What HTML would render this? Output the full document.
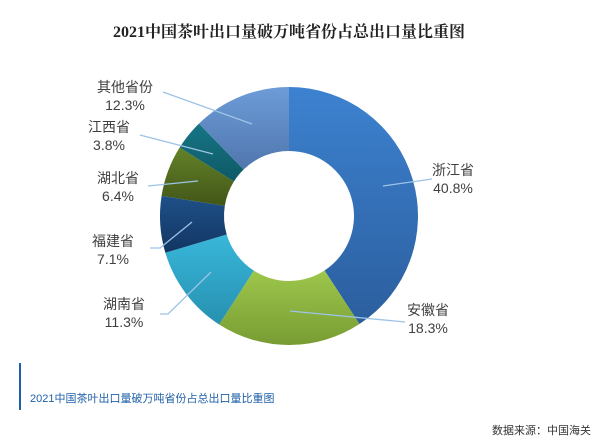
<!DOCTYPE html><html><head><meta charset="utf-8"><style>
body{margin:0;width:603px;height:438px;background:#fff;position:relative;overflow:hidden;font-family:"Liberation Sans","Noto Sans CJK SC",sans-serif}
.t{position:absolute;color:#404040;font-size:14px;line-height:18px;text-align:center}
</style></head><body>
<div style="position:absolute;top:19px;left:0;width:578px;text-align:center;font-weight:bold;font-size:16px;color:#222;font-family:'Liberation Serif','Noto Serif CJK SC',serif">2021中国茶叶出口量破万吨省份占总出口量比重图</div>
<svg id="s" width="603" height="438" style="position:absolute;left:0;top:0">
<defs>
<linearGradient id="g0" x1="0" y1="0" x2="0" y2="1"><stop offset="0" stop-color="#3d82d0"/><stop offset="1" stop-color="#2b5e9e"/></linearGradient>
<linearGradient id="g1" x1="0" y1="0" x2="0" y2="1"><stop offset="0" stop-color="#9ec74c"/><stop offset="1" stop-color="#789c33"/></linearGradient>
<linearGradient id="g2" x1="0" y1="0" x2="0" y2="1"><stop offset="0" stop-color="#38b7da"/><stop offset="1" stop-color="#2790b0"/></linearGradient>
<linearGradient id="g3" x1="0" y1="0" x2="0" y2="1"><stop offset="0" stop-color="#1f5088"/><stop offset="1" stop-color="#123663"/></linearGradient>
<linearGradient id="g4" x1="0" y1="0" x2="0" y2="1"><stop offset="0" stop-color="#648228"/><stop offset="1" stop-color="#425618"/></linearGradient>
<linearGradient id="g5" x1="0" y1="0" x2="0" y2="1"><stop offset="0" stop-color="#167585"/><stop offset="1" stop-color="#0f5966"/></linearGradient>
<linearGradient id="g6" x1="0" y1="0" x2="0" y2="1"><stop offset="0" stop-color="#6d9cd8"/><stop offset="1" stop-color="#5076ae"/></linearGradient>
</defs>
<g id="pie"></g>
<g stroke="#9dc3e6" stroke-width="1.3" fill="none">
<polyline points="163,92 252,124"/>
<polyline points="140,135 213,154"/>
<polyline points="148,186 198,181"/>
<polyline points="150,248 160,248 192,222"/>
<polyline points="160,314 168,314 211,272"/>
<polyline points="290,311 405,322"/>
<polyline points="383,186 432,179"/>
</g>
<rect x="19" y="363" width="2" height="47" fill="#1f5fa8"/>
</svg>
<div class="t" style="left:97px;top:78px">其他省份<br>12.3%</div>
<div class="t" style="left:88px;top:118px">江西省<br>3.8%</div>
<div class="t" style="left:97px;top:169px">湖北省<br>6.4%</div>
<div class="t" style="left:92px;top:232px">福建省<br>7.1%</div>
<div class="t" style="left:103px;top:295px">湖南省<br>11.3%</div>
<div class="t" style="left:407px;top:301px">安徽省<br>18.3%</div>
<div class="t" style="left:432px;top:161px">浙江省<br>40.8%</div>
<div style="position:absolute;left:30px;top:390px;font-size:11px;color:#1f5fa8">2021中国茶叶出口量破万吨省份占总出口量比重图</div>
<div style="position:absolute;right:12px;top:422px;font-size:11px;color:#333">数据来源：中国海关</div>
<script>
var v=[40.8,18.3,11.3,7.1,6.4,3.8,12.3],cx=289,cy=216,R=129,r=65,a=0,h='';
function p(rr,t){return (cx+rr*Math.sin(t)).toFixed(2)+','+(cy-rr*Math.cos(t)).toFixed(2)}
for(var i=0;i<v.length;i++){var a0=a/100*2*Math.PI,a1=(a+v[i])/100*2*Math.PI;a+=v[i];
var l=(a1-a0)>Math.PI?1:0;
h+='<path fill="url(#g'+i+')" d="M'+p(R,a0)+'A'+R+','+R+' 0 '+l+' 1 '+p(R,a1)+'L'+p(r,a1)+'A'+r+','+r+' 0 '+l+' 0 '+p(r,a0)+'Z"/>';}
document.getElementById('pie').innerHTML=h;
</script>
</body></html>
